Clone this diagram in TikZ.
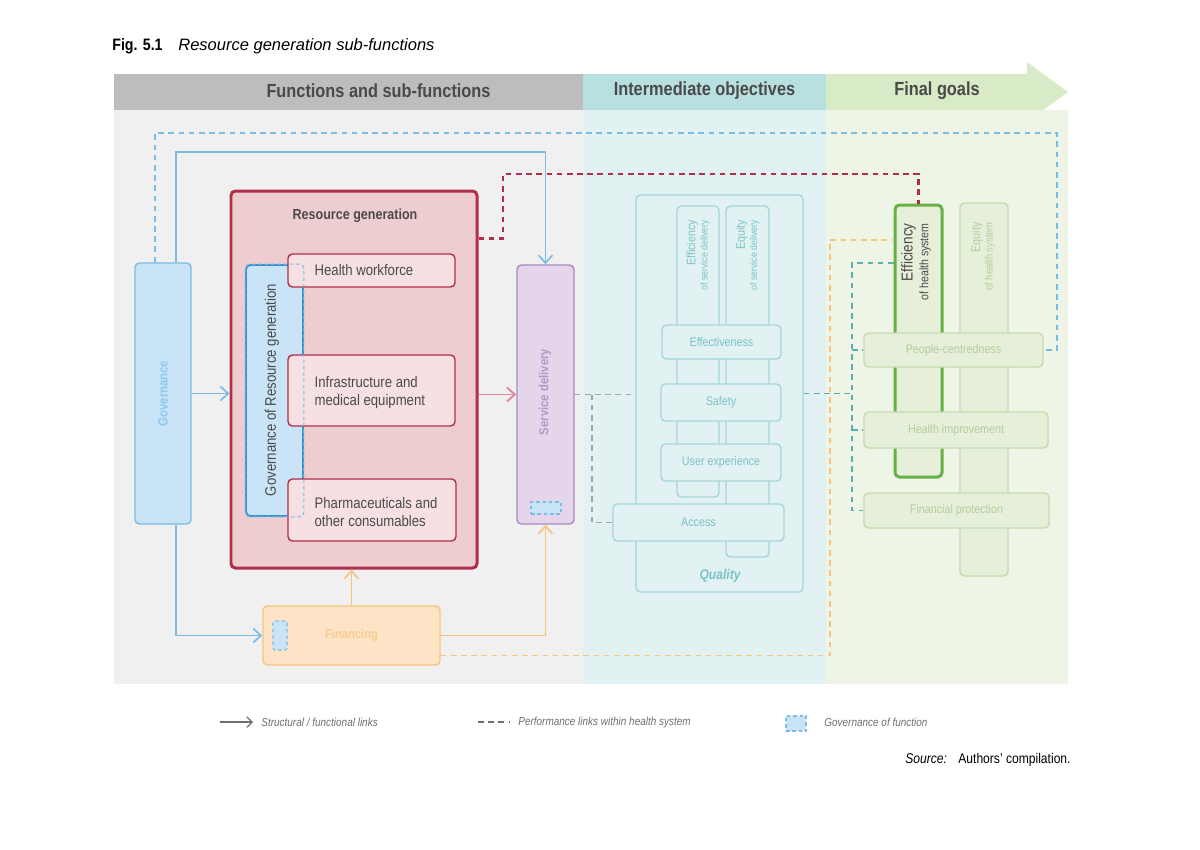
\documentclass[tikz,border=0pt]{standalone}
\usepackage{fontspec}
\setmainfont{Liberation Sans}[FakeStretch=0.86]
\newfontfamily\widefont{Liberation Sans}
\usetikzlibrary{calc,arrows.meta}

\definecolor{hdrgray}{HTML}{BEBDBD}
\definecolor{hdrteal}{HTML}{B9E0E1}
\definecolor{hdrgreen}{HTML}{D8EAC6}
\definecolor{pnlgray}{HTML}{F0F0F0}
\definecolor{pnlteal}{HTML}{E2F1F2}
\definecolor{pnlgreen}{HTML}{EEF5E6}
\definecolor{govfill}{HTML}{C8E4F6}
\definecolor{govline}{HTML}{7BBCE4}
\definecolor{govdark}{HTML}{3A92CE}
\definecolor{govtext}{HTML}{8DC8EE}
\definecolor{rgline}{HTML}{B02E4A}
\definecolor{rgfill}{HTML}{EECDD1}
\definecolor{subfill}{HTML}{F6E0E3}
\definecolor{rgarrow}{HTML}{DD8A9A}
\definecolor{sdfill}{HTML}{E4D5EB}
\definecolor{sdline}{HTML}{AC88C3}
\definecolor{sdtext}{HTML}{B596C9}
\definecolor{finfill}{HTML}{FDE4C6}
\definecolor{finline}{HTML}{F5C47F}
\definecolor{fintext}{HTML}{F8CC8F}
\definecolor{qline}{HTML}{A6D6D9}
\definecolor{qtext}{HTML}{78C4C8}
\definecolor{tealdash}{HTML}{5DAFB2}
\definecolor{gline}{HTML}{C6DCAF}
\definecolor{gfill}{HTML}{E6EFDA}
\definecolor{gtext}{HTML}{B3CE9A}
\definecolor{effgreen}{HTML}{66B045}
\definecolor{darktext}{HTML}{4A4A4A}
\definecolor{legendgray}{HTML}{6E6E6E}
\definecolor{sddash}{HTML}{A5A5A5}

\newcommand{\px}{0.2mm}

\tikzset{
  >={Straight Barb[length=4.5pt,width=8pt]},
  box/.style={draw, rounded corners=2.5pt, inner sep=0pt, line width=0.8pt},
  govbox/.style={box, fill=govfill, draw=govline},
  rgbox/.style={box, fill=subfill, draw=rgline},
  qbox/.style={box, fill=pnlteal, draw=qline, text=qtext, font=\fontsize{7.1}{8}\selectfont},
  gbox/.style={box, fill=gfill, draw=gline, text=gtext, font=\fontsize{7.1}{8}\selectfont},
  boxtext/.style={text=darktext, align=left, font=\fontsize{8.7}{10.4}\selectfont, inner sep=0pt},
  hdrtext/.style={text=darktext, font=\fontsize{10.8}{12}\selectfont\bfseries},
  legtext/.style={text=legendgray, inner sep=0pt, font=\fontsize{6.6}{8}\selectfont\itshape},
  vtext/.style={rotate=90, inner sep=0pt},
  link/.style={line width=0.95pt, ->},
  perf/.style={line width=0.95pt, dash pattern=on 3.2pt off 2.6pt},
  govdash/.style={draw=govline, line width=0.6pt, dash pattern=on 2pt off 1.6pt},
}

\begin{document}
\begin{tikzpicture}[x=\px, y=-\px]
\useasboundingbox (0,0) rectangle (1200,849);
\fill[white] (0,0) rectangle (1200,849);

% title
\node[anchor=base west, inner sep=0pt, font=\fontsize{9.4}{11}\selectfont\bfseries] (fig-no) at (112,50) {Fig. 5.1};
\node[anchor=base west, inner sep=0pt, font=\widefont\fontsize{9.4}{11}\selectfont\itshape] (fig-title) at (178,50) {Resource generation sub-functions};

% header bands and panels
\fill[hdrgray] (114,74) rectangle (583,110);
\fill[hdrteal] (583,74) rectangle (826,110);
\fill[hdrgreen] (826,74) -- (1027,74) -- (1027,62) -- (1068,92) -- (1027,122) -- (1027,110) -- (826,110) -- cycle;
\fill[pnlgray] (114,110) rectangle (583,684);
\fill[pnlteal] (583,110) rectangle (826,684);
\fill[pnlgreen] (826,110) rectangle (1068,684);
\node[hdrtext] (hdr-func) at (378.5,91) {Functions and sub-functions};
\node[hdrtext] (hdr-obj) at (704.5,91) {Intermediate objectives};
\node[hdrtext] (hdr-goal) at (937,91) {Final goals};

% governance
\node[govbox, minimum width=56*\px, minimum height=261*\px] (gov) at (163,393.5) {};
\node[vtext, text=govtext, font=\fontsize{7.5}{9}\selectfont\bfseries] (gov-t) at (gov.center) {Governance};

% resource generation
\node[box, fill=rgfill, draw=rgline, line width=1.7pt, minimum width=246*\px, minimum height=377*\px] (rg) at (354,379.5) {};
\node[text=darktext, font=\fontsize{8.3}{10}\selectfont\bfseries] (rg-t) at (355,216) {Resource generation};
\node[box, fill=govfill, draw=govdark, line width=1pt, minimum width=57*\px, minimum height=251*\px] (govrg) at (274.5,390.5) {};
\node[vtext, text=darktext, font=\fontsize{8.7}{10}\selectfont] (govrg-t) at (272,390) {Governance of Resource generation};

\node[rgbox, minimum width=167*\px, minimum height=33*\px] (hw) at (371.5,270.5) {};
\node[boxtext, anchor=west] (hw-t) at ($(hw.west)+(27,0)$) {Health workforce};
\node[rgbox, minimum width=167*\px, minimum height=71*\px] (infra) at (371.5,390.5) {};
\node[boxtext, anchor=west] (infra-t) at ($(infra.west)+(27,2)$) {Infrastructure and\\medical equipment};
\node[rgbox, minimum width=168*\px, minimum height=62*\px] (pharma) at (372,510) {};
\node[boxtext, anchor=west] (pharma-t) at ($(pharma.west)+(27,2)$) {Pharmaceuticals and\\other consumables};
\draw[govdash, rounded corners=2.5pt] (govrg.south west) rectangle (govrg.north east);

% service delivery and financing
\node[box, fill=sdfill, draw=sdline, minimum width=57*\px, minimum height=259*\px] (sd) at (545.5,394.5) {};
\node[vtext, text=sdtext, font=\fontsize{7.5}{9}\selectfont\bfseries] (sd-t) at (545,392) {Service delivery};
\node[govdash, fill=govfill, minimum width=30*\px, minimum height=12*\px, inner sep=0pt] (sd-gov) at (546,508) {};

\node[box, fill=finfill, draw=finline, minimum width=177*\px, minimum height=59*\px, text=fintext, font=\fontsize{7.4}{9}\selectfont\bfseries] (fin) at (351.5,635.5) {Financing};
\node[govdash, fill=govfill, minimum width=14*\px, minimum height=29*\px, inner sep=0pt, rounded corners=1pt] (fin-gov) at (280,635.5) {};

% intermediate objectives
\node[box, fill=pnlteal, draw=qline, minimum width=167*\px, minimum height=397*\px] (quality) at (719.5,393.5) {};
\node[text=qtext, font=\fontsize{8}{9}\selectfont\bfseries\itshape] (quality-t) at (720,576) {Quality};
\node[qbox, minimum width=42*\px, minimum height=291*\px] (effsd) at (698,351.5) {};
\node[qbox, minimum width=43*\px, minimum height=351*\px] (eqsd) at (747.5,381.5) {};
\node[vtext, anchor=east, align=right, text=qtext, font=\fontsize{7}{7}\selectfont] (effsd-t) at (698,220) {Efficiency\\{\fontsize{5.8}{6.5}\selectfont of service delivery}};
\node[vtext, anchor=east, align=right, text=qtext, font=\fontsize{7}{7}\selectfont] (eqsd-t) at (747.5,220) {Equity\\{\fontsize{5.8}{6.5}\selectfont of service delivery}};
\node[qbox, minimum width=119*\px, minimum height=34*\px] (effect) at (721.5,342) {Effectiveness};
\node[qbox, minimum width=120*\px, minimum height=37*\px] (safety) at (721,402.5) {Safety};
\node[qbox, minimum width=120*\px, minimum height=37*\px] (ux) at (721,462.5) {User experience};
\node[qbox, minimum width=171*\px, minimum height=37*\px] (access) at (698.5,522.5) {Access};

% final goals
\node[gbox, draw=effgreen, line width=1.7pt, minimum width=47*\px, minimum height=272*\px] (effhs) at (918.5,341) {};
\node[gbox, minimum width=48*\px, minimum height=373*\px] (eqhs) at (984,389.5) {};
\node[vtext, anchor=east, align=right, text=darktext, font=\fontsize{9}{9}\selectfont] (effhs-t) at (916,223) {Efficiency\\{\fontsize{7}{7.5}\selectfont of health system}};
\node[vtext, anchor=east, align=right, text=gtext, font=\fontsize{7.1}{7.1}\selectfont] (eqhs-t) at (983,222) {Equity\\{\fontsize{6.2}{6.8}\selectfont of health system}};
\node[gbox, minimum width=179*\px, minimum height=34*\px] (pc) at (953.5,350) {People-centredness};
\node[gbox, minimum width=184*\px, minimum height=36*\px] (hi) at (956,430) {Health improvement};
\node[gbox, minimum width=185*\px, minimum height=35*\px] (fp) at (956.5,510.5) {Financial protection};

% connectors
\coordinate (govloop) at (1057,133);
\coordinate (rgloop) at (503,174);
\coordinate (finloop) at (830,240);
\coordinate (tealbus) at (852,263);

\draw[link, draw=govline] ($(gov.north)+(13,0)$) -- ++(0,-110) -| (sd.north);
\draw[perf, draw=govline] ($(gov.north)+(-8,0)$) |- (govloop) |- (pc.east);
\draw[link, draw=govline] (gov.east) -- (gov.east -| rg.west);
\draw[link, draw=govline] ($(gov.south)+(13,0)$) |- (fin.west);
\draw[perf, draw=rgline, line width=1.2pt] ($(rg.north east)+(0,49)$) -| (rgloop) -| (effhs.north);
\draw[link, draw=rgarrow, line width=1.1pt] (sd.west -| rg.east) -- (sd.west);
\draw[link, draw=finline] (fin.north) -- (fin.north |- rg.south);
\draw[link, draw=finline] (fin.east) -| (sd.south);
\draw[perf, draw=finline] ($(fin.east)+(0,20)$) -| (finloop) -- (finloop -| effhs.west);
\draw[perf, draw=sddash] (sd.east) -- (sd.east -| quality.west);
\draw[perf, draw=sddash] ($(sd.east)+(17,0)$) |- (access.west);
\draw[perf, draw=tealdash] (quality.east) -- (quality.east -| tealbus);
\draw[perf, draw=tealdash] (effhs.west |- tealbus) -- (tealbus) |- (fp.west);
\draw[perf, draw=tealdash] (tealbus |- pc.west) -- (pc.west);
\draw[perf, draw=tealdash] (tealbus |- hi.west) -- (hi.west);

% legend
\node[legtext, anchor=west] (leg-link) at (261,722) {Structural / functional links};
\draw[link, draw=legendgray, line width=0.7pt, >={Straight Barb[length=3pt,width=6pt]}] ($(leg-link.west)+(-41,0)$) -- ($(leg-link.west)+(-8,0)$);
\node[legtext, anchor=west] (leg-perf) at (518,722) {Performance links within health system};
\draw[perf, draw=legendgray, line width=0.7pt] ($(leg-perf.west)+(-40,0)$) -- ($(leg-perf.west)+(-8,0)$);
\node[govdash, fill=govfill, minimum width=20*\px, minimum height=15*\px, inner sep=0pt] (leg-gov-box) at (796,723.5) {};
\node[legtext, anchor=west] (leg-gov) at (824,722) {Governance of function};

% source
\node[anchor=base west, inner sep=0pt, font=\fontsize{8}{9}\selectfont\itshape] (src-lbl) at (905,763) {Source:};
\node[anchor=base west, inner sep=0pt, font=\fontsize{8}{9}\selectfont] (src) at (958,763) {Authors' compilation.};
\end{tikzpicture}
\end{document}
